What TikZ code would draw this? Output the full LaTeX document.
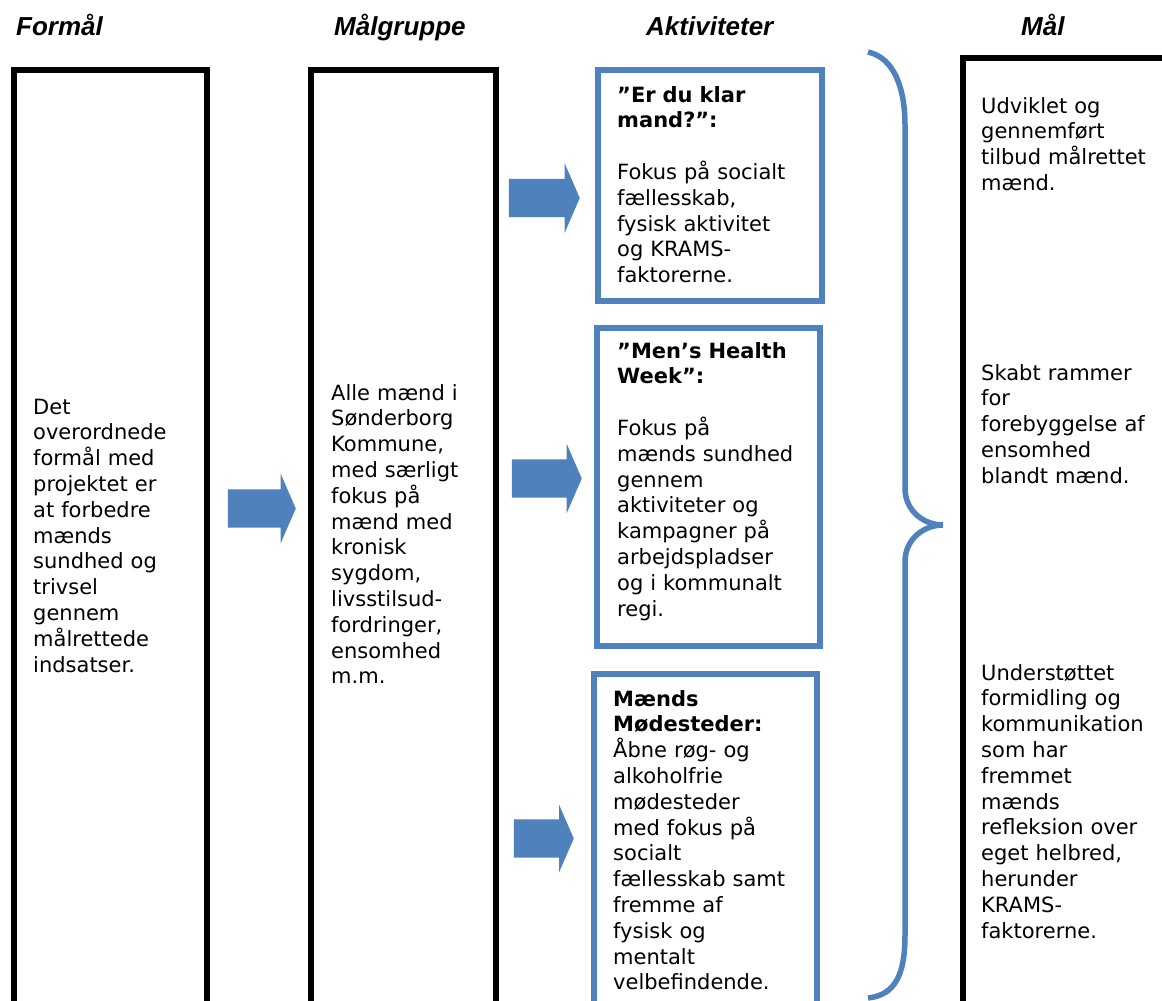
\documentclass[tikz,border=0pt]{standalone}
\usepackage{fontspec}
\setmainfont{DejaVu Sans}
\newfontfamily\headfont{Liberation Sans}
\usepackage{tikz}
\usetikzlibrary{shapes.arrows}
\definecolor{msblue}{RGB}{79,129,189}
\newcommand{\bodysize}{\fontsize{21}{25.8}\selectfont}

\begin{document}
\begin{tikzpicture}[x=1pt,y=-1pt,
    heading/.style={font=\headfont\fontsize{26}{30}\selectfont\bfseries\itshape, inner sep=0, anchor=base west},
    bodytext/.style={font=\bodysize, text width=200, align=left, inner sep=0, anchor=base west},
    blackbox/.style={draw, line width=5.7, inner sep=0, anchor=north west},
    bluebox/.style={draw=msblue, line width=6, inner sep=0, anchor=north west},
    blockarrow/.style={single arrow, fill=msblue, inner xsep=0, inner ysep=19, single arrow head extend=15.5, single arrow tip angle=133, anchor=tip}]
    \useasboundingbox (0,0) rectangle (1162,1001);
    \clip (0,0) rectangle (1162,1001);
    \node[heading] (hformaal) at (16,35) {Formål};
    \node[heading] (hgruppe) at (334,35) {Målgruppe};
    \node[heading] (haktiv) at (646,35) {Aktiviteter};
    \node[heading] (hmaal) at (1021,35) {Mål};
    \node[blackbox, minimum width=193, minimum height=943] (formaal) at (11,67) {};
    \node[blackbox, minimum width=185, minimum height=943] (gruppe) at (308,67) {};
    \node[blackbox, minimum width=215, minimum height=955] (maal) at (960,55) {};
    \node[bluebox, minimum width=224, minimum height=231] (klar) at (595,67) {};
    \node[bluebox, minimum width=223, minimum height=318] (health) at (594,325) {};
    \node[bluebox, minimum width=223, minimum height=339] (moede) at (591,671) {};
    \node[blockarrow, minimum height=68] (arrgruppe) at (296,508.5) {};
    \node[blockarrow, minimum height=71] (arrklar) at (580,198) {};
    \node[blockarrow, minimum height=70] (arrhealth) at (582,478.5) {};
    \node[blockarrow, minimum height=60, single arrow head extend=14.5] (arrmoede) at (574,838.5) {};
    \draw[msblue, line width=5.5] (868,52) .. controls (895,58) and (905,90) .. (905,125)
        -- (905,488) .. controls (905,512) and (925,525) .. (943,525)
        .. controls (925,525) and (905,538) .. (905,562)
        -- (905,935) .. controls (905,975) and (895,995) .. (868,998);
    \node[bodytext] (tformaal) at (33,414) {Det\\overordnede\\formål med\\projektet er\\at forbedre\\mænds\\sundhed og\\trivsel\\gennem\\målrettede\\indsatser.};
    \node[bodytext] (tgruppe) at (331,400) {Alle mænd i\\Sønderborg\\Kommune,\\med særligt\\fokus på\\mænd med\\kronisk\\sygdom,\\livsstilsud-\\fordringer,\\ensomhed\\m.m.};
    \node[bodytext] (tklar) at (617,102) {{\bfseries ”Er du klar\\mand?”:}\\[25.8pt]Fokus på socialt\\fællesskab,\\fysisk aktivitet\\og KRAMS-\\faktorerne.};
    \node[bodytext] (thealth) at (617,358) {{\bfseries ”Men’s Health\\Week”:}\\[25.8pt]Fokus på\\mænds sundhed\\gennem\\aktiviteter og\\kampagner på\\arbejdspladser\\og i kommunalt\\regi.};
    \node[bodytext] (tmoede) at (613,706) {{\bfseries Mænds\\Mødesteder:}\\Åbne røg- og\\alkoholfrie\\mødesteder\\med fokus på\\socialt\\fællesskab samt\\fremme af\\fysisk og\\mentalt\\velbefindende.};
    \node[bodytext] (tmaalA) at (981,113) {Udviklet og\\gennemført\\tilbud målrettet\\mænd.};
    \node[bodytext] (tmaalB) at (981,380) {Skabt rammer\\for\\forebyggelse af\\ensomhed\\blandt mænd.};
    \node[bodytext] (tmaalC) at (981,680) {Understøttet\\formidling og\\kommunikation\\som har\\fremmet\\mænds\\refleksion over\\eget helbred,\\herunder\\KRAMS-\\faktorerne.};
\end{tikzpicture}
\end{document}
